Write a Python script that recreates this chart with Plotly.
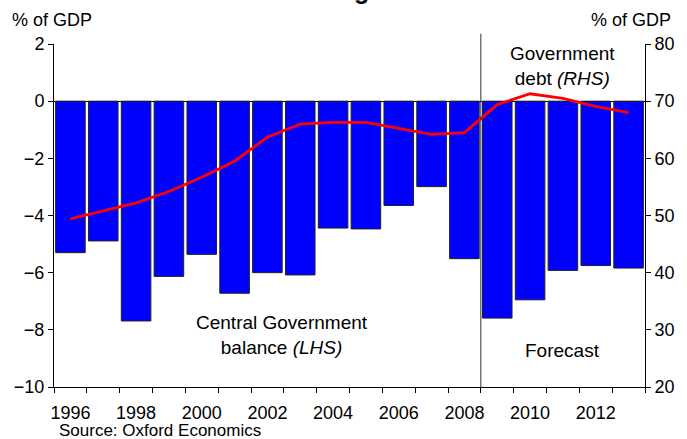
import plotly.graph_objects as go

years = list(range(1996, 2014))
balance = [-5.30, -4.89, -7.69, -6.13, -5.36, -6.72, -6.00, -6.08, -4.44, -4.47,
           -3.65, -2.99, -5.51, -7.59, -6.95, -5.92, -5.75, -5.84]
debt = [49.4, 50.8, 52.2, 54.2, 56.7, 59.5, 63.7, 66.0, 66.3, 66.3,
        65.3, 64.2, 64.5, 69.4, 71.3, 70.5, 69.1, 68.0]
year_ticks = [1996, 1998, 2000, 2002, 2004, 2006, 2008, 2010, 2012]
forecast_start = 2008.5

FONT = "Liberation Sans, Arial, sans-serif"

fig = go.Figure()
fig.add_trace(go.Bar(x=years, y=balance, width=0.9,
                     marker=dict(color="#0000FF", line=dict(color="#222222", width=1)),
                     yaxis="y", showlegend=False))
fig.add_trace(go.Scatter(x=years, y=debt, mode="lines",
                         line=dict(color="#FF0000", width=2.8),
                         yaxis="y2", showlegend=False))

fig.update_layout(
    width=687, height=439,
    margin=dict(l=54, r=39, t=44, b=52),
    paper_bgcolor="white", plot_bgcolor="white",
    font=dict(family=FONT, size=18, color="black"),
    bargap=0.1,
    xaxis=dict(range=[1995.5, 2013.5], tickmode="array", tickvals=year_ticks,
               ticktext=[str(y) for y in year_ticks],
               ticks="outside", ticklen=9, tickcolor="rgba(0,0,0,0)",
               showline=True, linecolor="black", linewidth=1, showgrid=False,
               zeroline=False,
               minor=dict(tickmode="array",
                          tickvals=[1995.5 + i for i in range(19)],
                          ticks="outside", ticklen=5, tickcolor="black", showgrid=False),
               tickfont=dict(size=18)),
    yaxis=dict(range=[-10, 2], dtick=2, ticks="outside", ticklen=5, tickcolor="black",
               showline=True, linecolor="black", linewidth=1, showgrid=False,
               zeroline=True, zerolinecolor="black", zerolinewidth=1,
               tickfont=dict(size=18)),
    yaxis2=dict(range=[20, 80], dtick=10, overlaying="y", side="right",
                ticks="outside", ticklen=5, tickcolor="black",
                showline=True, linecolor="black", linewidth=1, showgrid=False,
                zeroline=False, tickfont=dict(size=18)),
)

fig.add_shape(type="line", xref="x", yref="paper", x0=forecast_start, x1=forecast_start,
              y0=0, y1=1.03, line=dict(color="#333333", width=1))

ann = dict(showarrow=False, font=dict(family=FONT, size=19, color="black"))
fig.add_annotation(text="% of GDP", xref="paper", yref="paper", x=-0.075, y=1.07,
                   xanchor="left", yanchor="middle",
                   showarrow=False, font=dict(family=FONT, size=18, color="black"))
fig.add_annotation(text="% of GDP", xref="paper", yref="paper", x=1.0477, y=1.07,
                   xanchor="right", yanchor="middle",
                   showarrow=False, font=dict(family=FONT, size=18, color="black"))
fig.add_annotation(text="Central Government<br>balance <i>(LHS)</i>", xref="paper", yref="paper",
                   x=(283 - 54.3) / 593.4, y=0.152, xanchor="center", yanchor="middle", **ann)
fig.add_annotation(text="Government<br>debt <i>(RHS)</i>", xref="paper", yref="paper",
                   x=(565 - 54.3) / 593.4, y=0.936, xanchor="center", yanchor="middle", **ann)
fig.add_annotation(text="Forecast", xref="paper", yref="paper",
                   x=(565 - 54.3) / 593.4, y=0.105, xanchor="center", yanchor="middle", **ann)
fig.add_annotation(text="Source: Oxford Economics", xref="paper", yref="paper",
                   x=(57 - 54.3) / 593.4, y=-0.126, xanchor="left", yanchor="middle",
                   showarrow=False, font=dict(family=FONT, size=17, color="black"))
fig.add_annotation(text="<b>Central Government budget balance and debt</b>", xref="paper", yref="paper",
                   x=(333 - 54.3) / 593.4, y=1, xanchor="center", yanchor="bottom", yshift=37.5,
                   showarrow=False, font=dict(family=FONT, size=25, color="black"))

fig.write_html("out.html")
